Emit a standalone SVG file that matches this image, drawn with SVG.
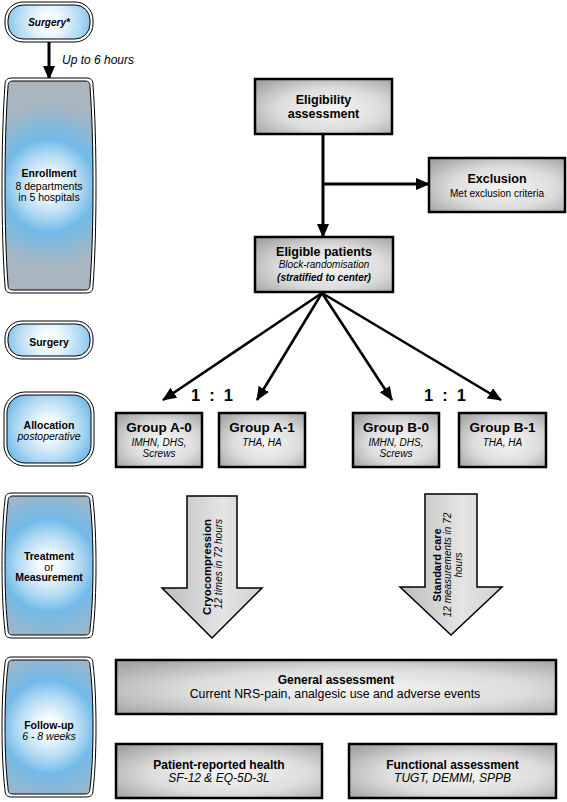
<svg xmlns="http://www.w3.org/2000/svg" width="567" height="802" viewBox="0 0 567 802">
<defs>
<radialGradient id="blue" gradientUnits="userSpaceOnUse" cx="49" cy="0" r="88">
<stop offset="0" stop-color="#ffffff"/>
<stop offset="0.12" stop-color="#f4fafe"/>
<stop offset="0.36" stop-color="#b0d9f3"/>
<stop offset="0.53" stop-color="#72bae8"/>
<stop offset="0.7" stop-color="#88b8d8"/>
<stop offset="0.88" stop-color="#a3b6c4"/>
<stop offset="1" stop-color="#aab6bf"/>
</radialGradient>
<radialGradient id="gray" cx="55%" cy="55%" r="70%">
<stop offset="0" stop-color="#f6f6f6"/>
<stop offset="0.55" stop-color="#dcdcdc"/>
<stop offset="1" stop-color="#a4a4a4"/>
</radialGradient>
<linearGradient id="arr" x1="0" y1="0" x2="1" y2="0">
<stop offset="0" stop-color="#bcbcbc"/>
<stop offset="0.6" stop-color="#e4e4e4"/>
<stop offset="1" stop-color="#d0d0d0"/>
</linearGradient>
<marker id="ah" viewBox="0 0 14 12" refX="13" refY="6" markerWidth="14" markerHeight="12" markerUnits="userSpaceOnUse" orient="auto">
<path d="M0,0 L14,6 L0,12 Z" fill="#000"/>
</marker>
</defs>
<style>
text{font-family:"Liberation Sans",Arial,Helvetica,sans-serif;fill:#000;text-anchor:middle}
.o{fill:#fff;stroke:#000;stroke-width:1}
.i{fill:url(#blue);stroke:#000;stroke-width:1}
.box{fill:url(#gray);stroke:#000;stroke-width:2.5}
.blk{fill:url(#arr);stroke:#000;stroke-width:1.5}
.lb{font-size:10.5px;font-weight:bold}
.lr{font-size:10.5px}
.li{font-size:10.5px;font-style:italic}
.t{font-size:12.5px;font-weight:bold}
.s{font-size:10px}
.si{font-size:10px;font-style:italic}
.g{font-size:13.5px;font-weight:bold}
.c{fill:none;stroke:#000;stroke-width:3}
.d{fill:none;stroke:#000;stroke-width:2.6}
</style>

<g id="connectors">
<line class="c" x1="49" y1="42" x2="49" y2="79" marker-end="url(#ah)"/>
<line class="c" x1="323" y1="134" x2="323" y2="237" marker-end="url(#ah)"/>
<line class="c" x1="323" y1="184" x2="429" y2="184" marker-end="url(#ah)"/>
<line class="d" x1="322" y1="293" x2="163" y2="400" marker-end="url(#ah)"/>
<line class="d" x1="322" y1="293" x2="257" y2="400" marker-end="url(#ah)"/>
<line class="d" x1="322" y1="293" x2="392" y2="400" marker-end="url(#ah)"/>
<line class="d" x1="322" y1="293" x2="501" y2="400" marker-end="url(#ah)"/>
<text x="62" y="64" style="font-size:12px;font-style:italic;text-anchor:start">Up to 6 hours</text>
<text x="212" y="401" style="font-size:16.5px;font-weight:bold;word-spacing:4.5px">1 : 1</text>
<text x="445" y="401" style="font-size:16.5px;font-weight:bold;word-spacing:4.5px">1 : 1</text>
</g>

<g id="surgery-star" transform="translate(0,22)">
<rect class="o" x="5" y="-20" width="88" height="40" rx="18"/>
<rect class="i" x="8" y="-17" width="82" height="34" rx="15"/>
<text x="49" y="4" style="font-size:10px;font-weight:bold;font-style:italic">Surgery*</text>
</g>

<g id="enrollment" transform="translate(0,185.5)">
<path class="o" d="M12,-107.5 L86,-107.5 C91,-107.5 93,-105.5 93,-100.5 C97,-47.5 97,47.5 93,100.5 C93,105.5 91,107.5 86,107.5 L12,107.5 C7,107.5 5,105.5 5,100.5 C1,47.5 1,-47.5 5,-100.5 C5,-105.5 7,-107.5 12,-107.5 Z"/>
<path class="i" d="M13,-104.5 L85,-104.5 C89,-104.5 90,-102.5 90,-98.5 C94,-46.5 94,46.5 90,98.5 C90,102.5 89,104.5 85,104.5 L13,104.5 C9,104.5 8,102.5 8,98.5 C4,46.5 4,-46.5 8,-98.5 C8,-102.5 9,-104.5 13,-104.5 Z"/>
<text class="lb" x="49" y="-8.5">Enrollment</text>
<text class="lr" x="49" y="4">8 departments</text>
<text class="lr" x="49" y="15.5">in 5 hospitals</text>
</g>

<g id="surgery" transform="translate(0,340)">
<rect class="o" x="5" y="-19" width="88" height="38" rx="17"/>
<rect class="i" x="8" y="-16" width="82" height="32" rx="14"/>
<text class="lb" x="49" y="6">Surgery</text>
</g>

<g id="allocation" transform="translate(0,429)">
<rect class="o" x="4" y="-37" width="90" height="74" rx="21"/>
<rect class="i" x="7" y="-34" width="84" height="68" rx="18"/>
<text class="lb" x="49" y="0">Allocation</text>
<text class="li" x="49" y="11">postoperative</text>
</g>

<g id="treatment" transform="translate(0,565.5)">
<path class="o" d="M12,-72.5 L86,-72.5 C91,-72.5 93,-70.5 93,-65.5 C97,-32.5 97,32.5 93,65.5 C93,70.5 91,72.5 86,72.5 L12,72.5 C7,72.5 5,70.5 5,65.5 C1,32.5 1,-32.5 5,-65.5 C5,-70.5 7,-72.5 12,-72.5 Z"/>
<path class="i" d="M13,-69.5 L85,-69.5 C89,-69.5 90,-67.5 90,-63.5 C94,-31.5 94,31.5 90,63.5 C90,67.5 89,69.5 85,69.5 L13,69.5 C9,69.5 8,67.5 8,63.5 C4,31.5 4,-31.5 8,-63.5 C8,-67.5 9,-69.5 13,-69.5 Z"/>
<text class="lb" x="49" y="-5.5">Treatment</text>
<text class="lr" x="49" y="5">or</text>
<text class="lb" x="49" y="15.5">Measurement</text>
</g>

<g id="followup" transform="translate(0,727)">
<path class="o" d="M12,-70 L86,-70 C91,-70 93,-68 93,-63 C97,-31 97,31 93,63 C93,68 91,70 86,70 L12,70 C7,70 5,68 5,63 C1,31 1,-31 5,-63 C5,-68 7,-70 12,-70 Z"/>
<path class="i" d="M13,-67 L85,-67 C89,-67 90,-65 90,-61 C94,-30 94,30 90,61 C90,65 89,67 85,67 L13,67 C9,67 8,65 8,61 C4,30 4,-30 8,-61 C8,-65 9,-67 13,-67 Z"/>
<text class="lb" x="49" y="2">Follow-up</text>
<text class="li" x="49" y="13">6 - 8 weeks</text>
</g>

<g id="eligibility">
<rect class="box" x="255" y="79" width="137" height="55"/>
<text class="t" x="323.5" y="103.5">Eligibility</text>
<text class="t" x="323.5" y="117.5">assessment</text>
</g>

<g id="exclusion">
<rect class="box" x="429" y="158" width="136" height="54"/>
<text class="t" x="497" y="182.5">Exclusion</text>
<text class="s" x="497" y="196.5">Met exclusion criteria</text>
</g>

<g id="eligible">
<rect class="box" x="255" y="237" width="138" height="55"/>
<text class="t" x="324" y="255.5">Eligible patients</text>
<text class="si" x="324" y="268">Block-randomisation</text>
<text class="si" x="324" y="281" style="font-weight:bold">(stratified to center)</text>
</g>

<g id="group-a0">
<rect class="box" x="116" y="413" width="86" height="54"/>
<text class="g" x="159" y="432">Group A-0</text>
<text class="si" x="159" y="445.5">IMHN, DHS,</text>
<text class="si" x="159" y="456.5">Screws</text>
</g>

<g id="group-a1">
<rect class="box" x="219" y="413" width="86" height="54"/>
<text class="g" x="262" y="432">Group A-1</text>
<text class="si" x="262" y="445.5">THA, HA</text>
</g>

<g id="group-b0">
<rect class="box" x="353" y="413" width="86" height="54"/>
<text class="g" x="396" y="432">Group B-0</text>
<text class="si" x="396" y="445.5">IMHN, DHS,</text>
<text class="si" x="396" y="456.5">Screws</text>
</g>

<g id="group-b1">
<rect class="box" x="459" y="413" width="87" height="54"/>
<text class="g" x="502.5" y="432">Group B-1</text>
<text class="si" x="502.5" y="445.5">THA, HA</text>
</g>

<g id="cryo">
<path class="blk" d="M187,496 L237,496 L237,588 L262,588 L212,638 L162,588 L187,588 Z"/>
<text transform="translate(211,567) rotate(-90)" style="font-size:11.3px;font-weight:bold">Cryocompression</text>
<text transform="translate(221.5,564) rotate(-90)" class="si">12 times in 72 hours</text>
</g>

<g id="standard">
<path class="blk" d="M425,494 L477,494 L477,587 L502,587 L451,635 L400,587 L425,587 Z"/>
<text transform="translate(441,565) rotate(-90)" style="font-size:11px;font-weight:bold">Standard care</text>
<text transform="translate(451,565) rotate(-90)" class="si">12 measurements in 72</text>
<text transform="translate(461.5,565) rotate(-90)" class="si">hours</text>
</g>

<g id="general">
<rect class="box" x="116" y="660" width="440" height="54"/>
<text x="336" y="683.5" style="font-size:12px;font-weight:bold">General assessment</text>
<text x="335" y="697.5" style="font-size:12.3px">Current NRS-pain, analgesic use and adverse events</text>
</g>

<g id="patient">
<rect class="box" x="116" y="744" width="206" height="54"/>
<text x="219" y="768.5" style="font-size:12px;font-weight:bold">Patient-reported health</text>
<text x="219" y="782" style="font-size:12px;font-style:italic">SF-12 &amp; EQ-5D-3L</text>
</g>

<g id="functional">
<rect class="box" x="349" y="744" width="207" height="54"/>
<text x="452.5" y="768.5" style="font-size:12px;font-weight:bold">Functional assessment</text>
<text x="452.5" y="782" style="font-size:12px;font-style:italic">TUGT, DEMMI, SPPB</text>
</g>
</svg>
